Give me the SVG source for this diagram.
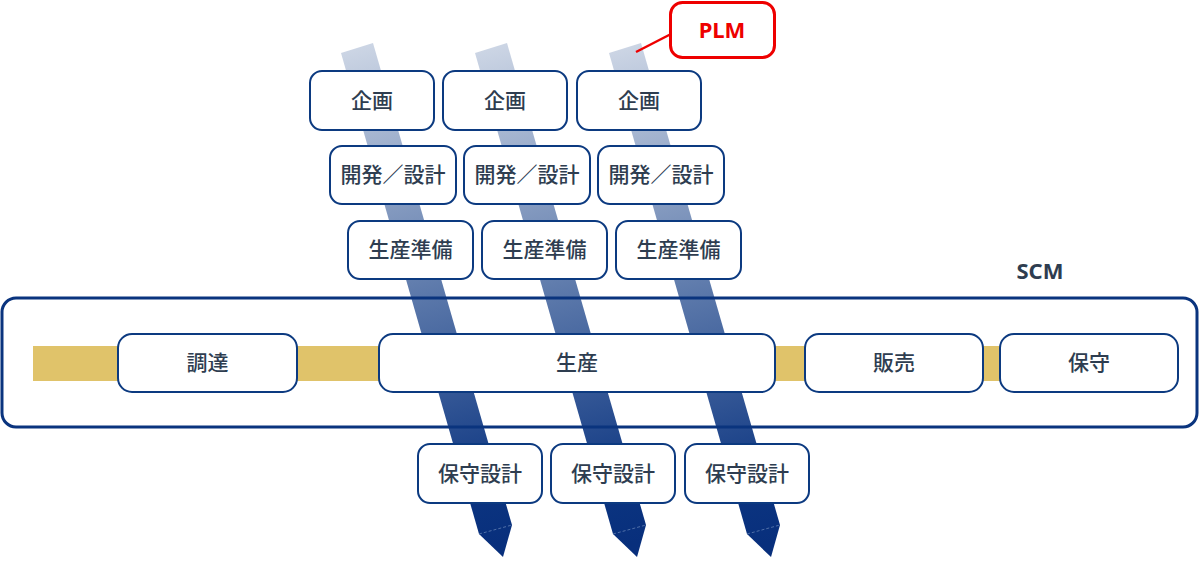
<svg xmlns="http://www.w3.org/2000/svg" xmlns:xlink="http://www.w3.org/1999/xlink" width="1200" height="564" viewBox="0 0 1200 564">
<style>
.box{fill:#fff;stroke:#0c3a80;stroke-width:2}
.t{font-family:"Noto Sans CJK JP","Noto Sans",sans-serif;font-size:21px;font-weight:500;fill:#2e3d50;text-anchor:middle;dominant-baseline:central}
.seam{stroke:#4f6fa8;stroke-width:1;stroke-dasharray:3 2;fill:none}
</style>
<defs>
<linearGradient id="g" gradientUnits="userSpaceOnUse" x1="357" y1="45" x2="495" y2="545">
<stop offset="0" stop-color="#cdd6e5"/>
<stop offset="0.5" stop-color="#5b78aa"/>
<stop offset="0.9" stop-color="#0b3480"/>
<stop offset="1" stop-color="#082f7c"/>
</linearGradient>
<g id="band">
<polygon points="341,53 373,43 512,525 503,557 479,534" fill="url(#g)"/>
<line x1="479" y1="534" x2="512" y2="525" class="seam"/>
</g>
</defs>

<g id="connectors">
<rect x="33" y="346" width="977" height="35" fill="#e0c36a"/>
<use xlink:href="#band"/>
<use xlink:href="#band" transform="translate(134,0)"/>
<use xlink:href="#band" transform="translate(268,0)"/>
</g>

<g id="scm">
<rect x="2" y="298" width="1195" height="129" rx="14" fill="none" stroke="#0a347e" stroke-width="3"/>
<text x="1040" y="279" font-family="'Noto Sans','Open Sans',sans-serif" font-weight="bold" font-size="22" fill="#2e3d50" text-anchor="middle">SCM</text>
</g>

<g id="kikaku1"><rect class="box" x="310" y="71" width="124" height="59" rx="12"/><text class="t" x="372" y="98.5">企画</text></g>
<g id="kikaku2"><rect class="box" x="443" y="71" width="124" height="59" rx="12"/><text class="t" x="505" y="98.5">企画</text></g>
<g id="kikaku3"><rect class="box" x="577" y="71" width="124" height="59" rx="12"/><text class="t" x="639" y="98.5">企画</text></g>

<g id="kaihatsu1"><rect class="box" x="330" y="146" width="126" height="58" rx="12"/><text class="t" x="393" y="173">開発／設計</text></g>
<g id="kaihatsu2"><rect class="box" x="464" y="146" width="126" height="58" rx="12"/><text class="t" x="527" y="173">開発／設計</text></g>
<g id="kaihatsu3"><rect class="box" x="598" y="146" width="126" height="58" rx="12"/><text class="t" x="661" y="173">開発／設計</text></g>

<g id="junbi1"><rect class="box" x="348" y="221" width="125" height="58" rx="12"/><text class="t" x="410.5" y="248">生産準備</text></g>
<g id="junbi2"><rect class="box" x="482" y="221" width="125" height="58" rx="12"/><text class="t" x="544.5" y="248">生産準備</text></g>
<g id="junbi3"><rect class="box" x="616" y="221" width="125" height="58" rx="12"/><text class="t" x="678.5" y="248">生産準備</text></g>

<g id="choutatsu"><rect class="box" x="118" y="334" width="179" height="58" rx="14"/><text class="t" x="207.5" y="361">調達</text></g>
<g id="seisan"><rect class="box" x="379" y="334" width="396" height="58" rx="14"/><text class="t" x="577" y="361">生産</text></g>
<g id="hanbai"><rect class="box" x="805" y="334" width="178" height="58" rx="14"/><text class="t" x="894" y="361">販売</text></g>
<g id="hoshu"><rect class="box" x="1000" y="334" width="178" height="58" rx="14"/><text class="t" x="1089" y="361">保守</text></g>

<g id="hoshusekkei1"><rect class="box" x="418" y="444" width="124" height="59" rx="12"/><text class="t" x="480" y="471.5">保守設計</text></g>
<g id="hoshusekkei2"><rect class="box" x="551" y="444" width="124" height="59" rx="12"/><text class="t" x="613" y="471.5">保守設計</text></g>
<g id="hoshusekkei3"><rect class="box" x="685" y="444" width="124" height="59" rx="12"/><text class="t" x="747" y="471.5">保守設計</text></g>

<g id="plm">
<line x1="636" y1="52" x2="671" y2="34" stroke="#ee0000" stroke-width="2.5"/>
<rect x="670.5" y="2.5" width="104" height="55" rx="12" fill="#fff" stroke="#ee0000" stroke-width="3"/>
<text x="722" y="38" font-family="'Noto Sans','Open Sans',sans-serif" font-weight="bold" font-size="22" fill="#ee0000" text-anchor="middle">PLM</text>
</g>
</svg>
